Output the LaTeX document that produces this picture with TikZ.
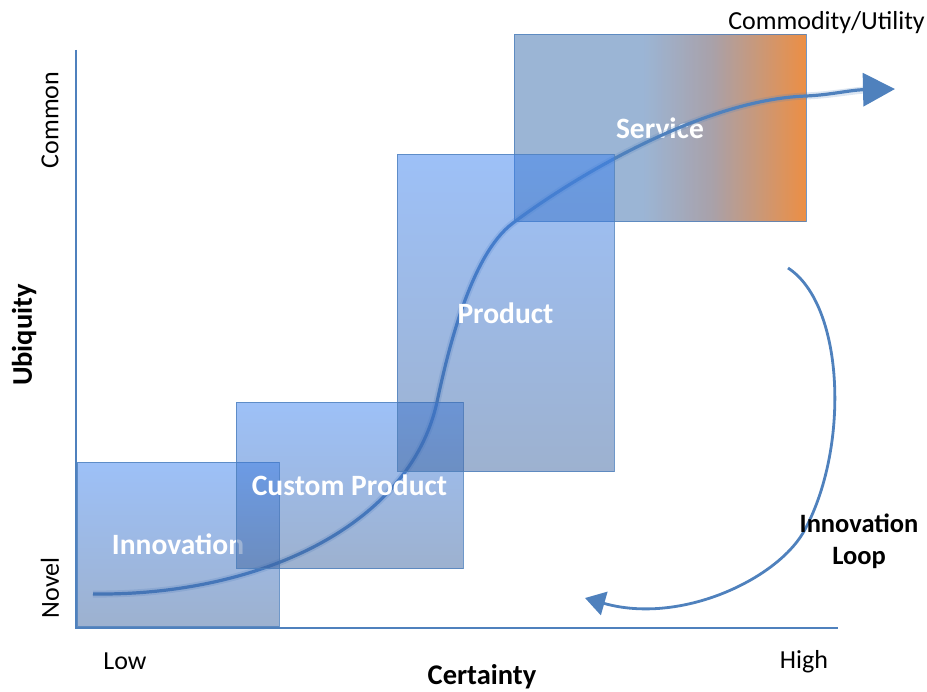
\documentclass[tikz,border=0pt]{standalone}
\usepackage{fontspec}
\setmainfont{Carlito}
\usetikzlibrary{arrows.meta}
\definecolor{ax}{RGB}{79,129,189}
\definecolor{boxtop}{RGB}{60,130,240}
\definecolor{boxbot}{RGB}{60,100,160}
\definecolor{sL}{RGB}{133,165,204}
\definecolor{sM}{RGB}{150,140,150}
\definecolor{sR}{RGB}{232,118,28}
\pgfdeclarehorizontalshading{servshade}{100bp}{color(0bp)=(sL); color(47bp)=(sL); color(59bp)=(sM); color(75bp)=(sR); color(100bp)=(sR)}
\tikzset{
  axisline/.style={draw=ax, line width=2.2pt},
  axisshadow/.style={draw=black, opacity=0.15, line width=2.5pt},
  stagebox/.style={inner sep=0pt, outer sep=0pt, draw=ax, line width=1pt, draw opacity=0.8,
    fill opacity=0.5, text opacity=1, text=white, font=\bfseries\fontsize{29.5}{34}\selectfont,
    top color=boxtop, bottom color=boxbot},
  servbox/.style={inner sep=0pt, outer sep=0pt, draw=ax, line width=1pt, draw opacity=0.8,
    fill opacity=0.82, text opacity=1, text=white, font=\bfseries\fontsize{29.5}{34}\selectfont,
    shade, shading=servshade},
  curve/.style={draw=ax, line width=3.2pt},
  glow/.style={draw=ax, line width=7pt, opacity=0.2},
  lbl/.style={font=\fontsize{26}{30}\selectfont, inner sep=0pt},
  blbl/.style={font=\bfseries\fontsize{28.5}{32}\selectfont, inner sep=0pt},
  looplbl/.style={font=\bfseries\fontsize{26.5}{32}\selectfont, inner sep=0pt},
}
\begin{document}
\begin{tikzpicture}[x=1pt,y=-1pt]
\useasboundingbox (0,0) rectangle (927,692);
% axes
\coordinate (ytop) at (76,50);
\coordinate (orig) at (76,628);
\coordinate (xend) at (838,628);
\draw[axisshadow, shift={(1.5,1.5)}] (ytop) -- (orig) -- (xend);
\draw[axisline] (ytop) -- (orig) -- (xend);
% service box
\node[servbox, minimum width=292pt, minimum height=187pt, anchor=north west] (serv) at (514,35) {Service};
% main curve
\coordinate (cs) at (93,594);
\coordinate (ce) at (895,89);
\draw[glow] (cs) .. controls (260,596) and (410,525) .. (437,402)
  .. controls (447,355) and (470,255) .. (513,223)
  .. controls (570,180) and (700,100) .. (806,96)
  .. controls (830,95) and (850,91) .. (865,90);
\draw[curve, -{Triangle[length=32pt,width=33pt]}] (cs) .. controls (260,596) and (410,525) .. (437,402)
  .. controls (447,355) and (470,255) .. (513,223)
  .. controls (570,180) and (700,100) .. (806,96)
  .. controls (830,95) and (850,90) .. (ce);
% stage boxes
\node[stagebox, minimum width=202pt, minimum height=163pt, anchor=north west] (inn) at (77,463) {Innovation};
\node[stagebox, minimum width=227pt, minimum height=165pt, anchor=north west] (cust) at (236,403) {Custom Product};
\node[stagebox, minimum width=217pt, minimum height=317pt, anchor=north west] (prod) at (397,155) {Product};
% innovation loop
\coordinate (ls) at (788,268);
\coordinate (le) at (585,598);
\draw[curve, line width=2.8pt, -{Triangle[length=20pt,width=24pt]}] (ls) .. controls (845,305) and (850,450) .. (803,533)
  .. controls (775,580) and (680,625) .. (le);
\node[looplbl, align=center] (loop) at (859,541) {Innovation\\Loop};
% labels
\node[lbl, anchor=base] (low) at (125,669) {Low};
\node[lbl, anchor=base] (high) at (804,668) {High};
\node[blbl, anchor=base] (cert) at (482,684) {Certainty};
\node[lbl, anchor=base east] (comm) at (925,30) {Commodity/Utility};
\node[lbl, rotate=90] (common) at (50,120) {Common};
\node[lbl, rotate=90] (novel) at (50,588) {Novel};
\node[blbl, rotate=90] (ubiq) at (24,335) {Ubiquity};
\end{tikzpicture}
\end{document}
